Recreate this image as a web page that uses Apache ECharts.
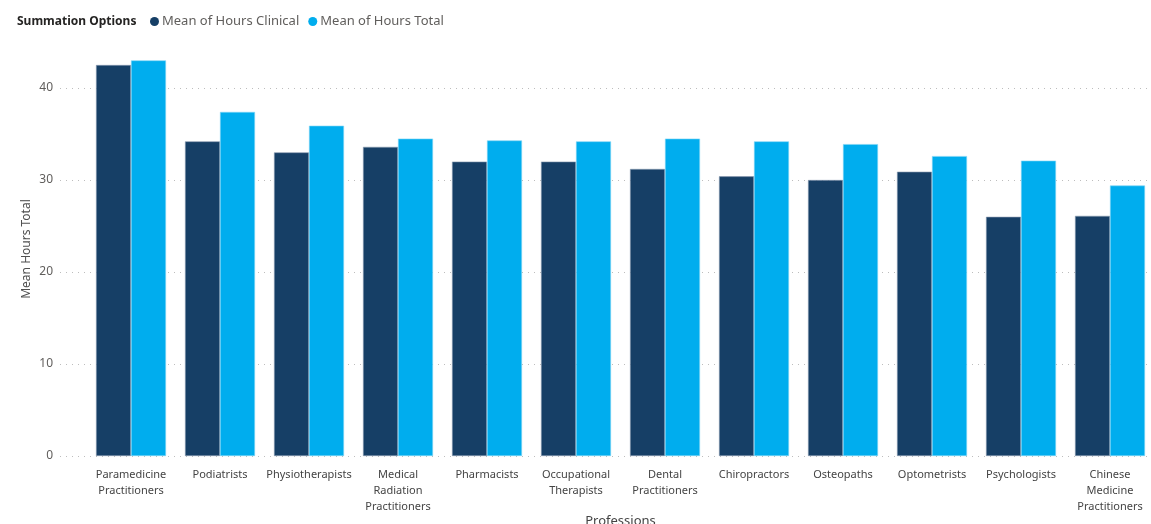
<!DOCTYPE html>
<html>
<head>
<meta charset="utf-8">
<script src="https://cdn.jsdelivr.net/npm/echarts@6/dist/echarts.min.js"></script>
<style>
  html, body { margin: 0; padding: 0; background: #fff; }
  #chart { width: 1151px; height: 524px; }
</style>
</head>
<body>
<div id="chart"></div>
<script>
  const professions = [
    'Paramedicine Practitioners', 'Podiatrists', 'Physiotherapists',
    'Medical Radiation Practitioners', 'Pharmacists', 'Occupational Therapists',
    'Dental Practitioners', 'Chiropractors', 'Osteopaths', 'Optometrists',
    'Psychologists', 'Chinese Medicine Practitioners'
  ];
  const hoursClinical = [42.5, 34.2, 33.0, 33.6, 32.0, 32.0, 31.2, 30.4, 30.0, 30.9, 26.0, 26.1];
  const hoursTotal = [43.0, 37.4, 35.9, 34.5, 34.3, 34.2, 34.5, 34.2, 33.9, 32.6, 32.1, 29.4];

  const font = "'Segoe UI', 'Noto Sans', sans-serif";
  const chart = echarts.init(document.getElementById('chart'));

  chart.setOption({
    animation: false,
    textStyle: { fontFamily: font },
    title: {
      text: 'Summation Options',
      left: 17,
      top: 16,
      padding: 0,
      textStyle: { fontSize: 12, fontWeight: 'bold', color: '#252423', fontFamily: font }
    },
    legend: {
      left: 150,
      top: 15,
      padding: 0,
      icon: 'circle',
      itemWidth: 9,
      itemHeight: 9,
      itemGap: 9,
      itemStyle: { borderWidth: 0 },
      textStyle: { fontSize: 13, color: '#605E5C', padding: [0, 0, 0, -2] },
      data: ['Mean of Hours Clinical', 'Mean of Hours Total']
    },
    grid: [
      // bars
      { left: 86.5, right: -3.5, top: 42, bottom: 68, outerBoundsMode: 'none' },
      // gridlines + y labels
      { left: 60, right: -3.5, top: 42, bottom: 68, outerBoundsMode: 'none' }
    ],
    xAxis: [
      {
        type: 'category',
        gridIndex: 0,
        data: professions,
        axisLine: { show: false },
        axisTick: { show: false },
        axisLabel: {
          interval: 0,
          margin: 11,
          fontSize: 11,
          lineHeight: 16,
          color: '#444',
          formatter: v => v.split(' ').join('\n')
        },
        name: 'Professions',
        nameLocation: 'middle',
        nameGap: 59,
        nameMoveOverlap: false,
        nameTextStyle: { fontSize: 13, color: '#444' }
      },
      {
        type: 'category',
        gridIndex: 1,
        data: professions,
        show: false
      }
    ],
    yAxis: [
      {
        type: 'value',
        gridIndex: 0,
        min: 0,
        max: 45,
        show: false,
        splitLine: { show: false }
      },
      {
        type: 'value',
        gridIndex: 1,
        min: 0,
        max: 45,
        interval: 10,
        axisLine: { show: false },
        axisTick: { show: false },
        axisLabel: {
          margin: 7,
          fontSize: 12,
          color: '#605E5C',
          showMaxLabel: false
        },
        splitLine: {
          show: true,
          showMaxLine: false,
          lineStyle: {
            type: [1, 5],
            color: '#BDBDBD',
            width: 1,
            opacity: 1
          }
        },
        name: 'Mean Hours Total',
        nameLocation: 'middle',
        nameGap: 27,
        nameMoveOverlap: false,
        nameRotate: 90,
        nameTextStyle: { fontSize: 12, color: '#505050' }
      }
    ],
    series: [
      {
        name: 'Mean of Hours Clinical',
        type: 'bar',
        xAxisIndex: 0,
        yAxisIndex: 0,
        data: hoursClinical,
        barWidth: 35,
        barGap: '0%',
        itemStyle: { color: '#163F66', borderColor: '#8A9BB0', borderWidth: 0.6 }
      },
      {
        name: 'Mean of Hours Total',
        type: 'bar',
        xAxisIndex: 0,
        yAxisIndex: 0,
        data: hoursTotal,
        barWidth: 35,
        barGap: '0%',
        itemStyle: { color: '#00ADEE', borderColor: '#7FD5F5', borderWidth: 0.6 }
      }
    ]
  });
</script>
</body>
</html>
